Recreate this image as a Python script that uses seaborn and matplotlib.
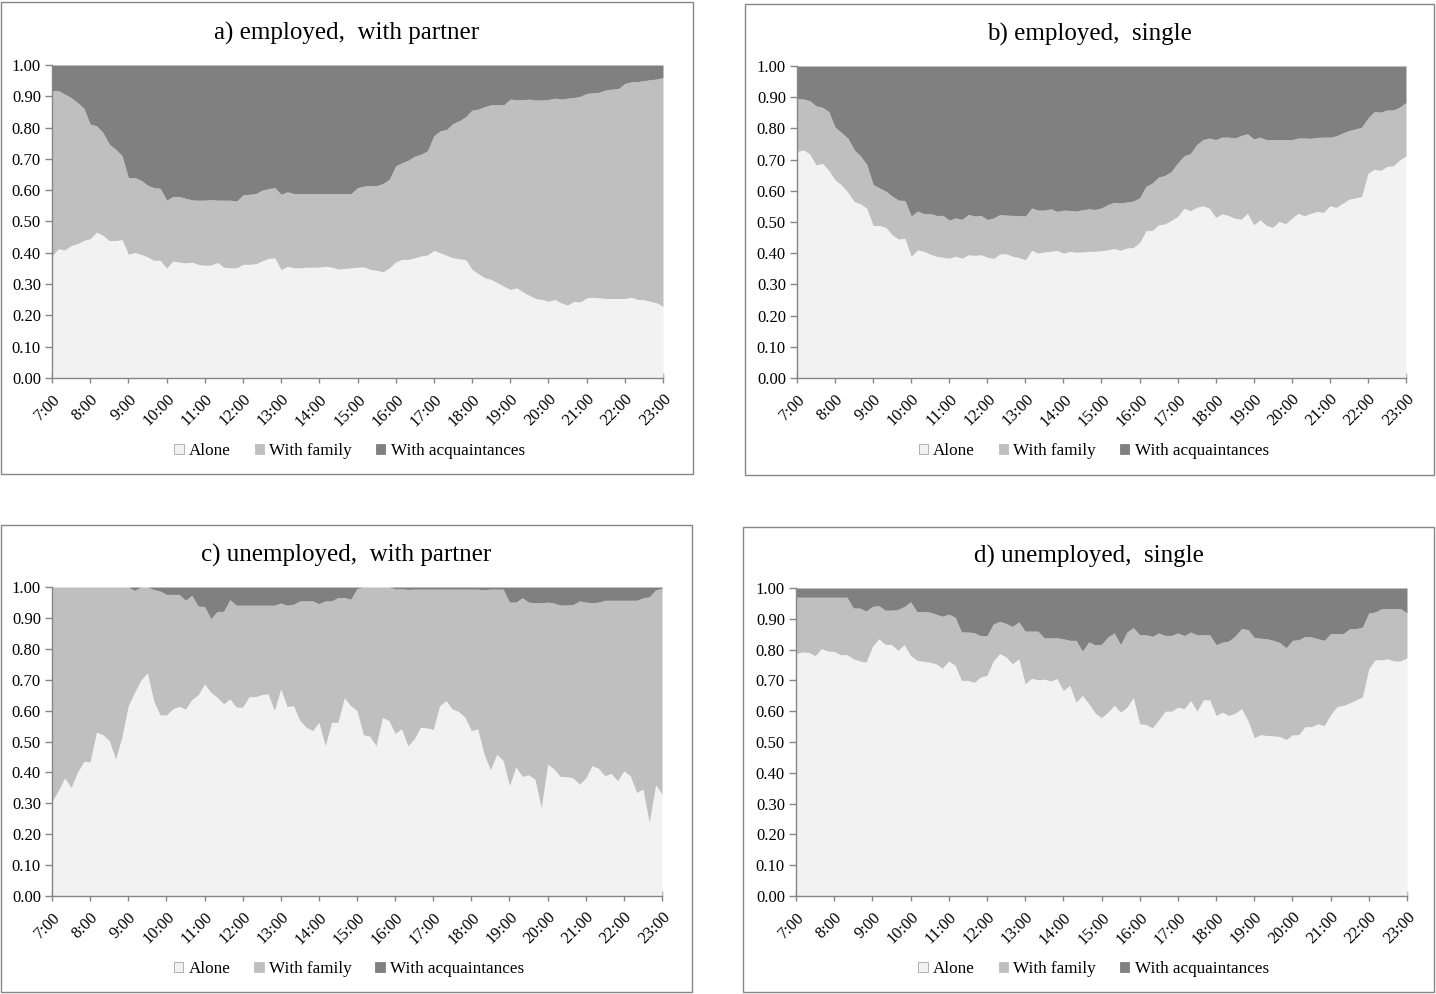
import numpy as np
import matplotlib
matplotlib.use("Agg")
import matplotlib.pyplot as plt
from matplotlib.patches import Patch, Rectangle
import seaborn as sns

# 10-minute slots from 7:00 to 23:00 (97 categories)
times = [f"{h}:{m:02d}" for h in range(7, 24) for m in range(0, 60, 10)][:97]
series_names = ["Alone", "With family", "With acquaintances"]

# share alone, and share alone or with family (the rest is with acquaintances)
# one row per hour
a_alone = [
    0.390, 0.413, 0.409, 0.423, 0.429, 0.440,
    0.445, 0.466, 0.456, 0.439, 0.439, 0.442,
    0.395, 0.401, 0.395, 0.387, 0.376, 0.376,
    0.351, 0.374, 0.370, 0.368, 0.370, 0.363,
    0.360, 0.361, 0.369, 0.354, 0.352, 0.352,
    0.363, 0.363, 0.365, 0.374, 0.382, 0.384,
    0.346, 0.357, 0.352, 0.352, 0.354, 0.354,
    0.354, 0.357, 0.354, 0.348, 0.350, 0.352,
    0.354, 0.355, 0.347, 0.344, 0.339, 0.352,
    0.371, 0.379, 0.379, 0.384, 0.390, 0.393,
    0.408, 0.400, 0.392, 0.384, 0.381, 0.378,
    0.347, 0.333, 0.320, 0.315, 0.304, 0.293,
    0.283, 0.288, 0.275, 0.264, 0.254, 0.251,
    0.245, 0.251, 0.240, 0.233, 0.245, 0.243,
    0.256, 0.258, 0.256, 0.254, 0.254, 0.254,
    0.254, 0.258, 0.251, 0.250, 0.245, 0.240,
    0.229,
]
a_not_acq = [
    0.918, 0.918, 0.907, 0.896, 0.880, 0.862,
    0.811, 0.806, 0.784, 0.747, 0.731, 0.710,
    0.640, 0.640, 0.632, 0.616, 0.608, 0.606,
    0.568, 0.580, 0.580, 0.574, 0.569, 0.568,
    0.568, 0.570, 0.568, 0.568, 0.568, 0.565,
    0.585, 0.587, 0.589, 0.600, 0.605, 0.608,
    0.587, 0.595, 0.589, 0.589, 0.589, 0.589,
    0.589, 0.589, 0.589, 0.589, 0.589, 0.589,
    0.608, 0.613, 0.615, 0.615, 0.621, 0.635,
    0.678, 0.688, 0.696, 0.709, 0.715, 0.726,
    0.774, 0.790, 0.794, 0.813, 0.822, 0.835,
    0.856, 0.859, 0.867, 0.873, 0.873, 0.873,
    0.891, 0.889, 0.889, 0.891, 0.888, 0.888,
    0.890, 0.894, 0.891, 0.894, 0.896, 0.900,
    0.909, 0.911, 0.913, 0.920, 0.923, 0.925,
    0.941, 0.946, 0.947, 0.950, 0.953, 0.955,
    0.960,
]

b_alone = [
    0.726, 0.731, 0.718, 0.683, 0.688, 0.665,
    0.635, 0.619, 0.596, 0.566, 0.558, 0.544,
    0.489, 0.489, 0.483, 0.459, 0.445, 0.448,
    0.390, 0.411, 0.406, 0.397, 0.390, 0.387,
    0.384, 0.390, 0.384, 0.395, 0.393, 0.395,
    0.387, 0.383, 0.398, 0.398, 0.390, 0.386,
    0.379, 0.409, 0.400, 0.404, 0.406, 0.409,
    0.400, 0.406, 0.403, 0.404, 0.406, 0.406,
    0.408, 0.411, 0.415, 0.409, 0.417, 0.418,
    0.434, 0.472, 0.473, 0.491, 0.494, 0.505,
    0.518, 0.544, 0.536, 0.547, 0.552, 0.544,
    0.515, 0.526, 0.521, 0.512, 0.509, 0.528,
    0.491, 0.507, 0.489, 0.483, 0.502, 0.494,
    0.512, 0.528, 0.520, 0.528, 0.534, 0.531,
    0.552, 0.547, 0.560, 0.573, 0.577, 0.582,
    0.656, 0.669, 0.665, 0.678, 0.680, 0.699,
    0.712,
]
b_not_acq = [
    0.895, 0.894, 0.889, 0.872, 0.868, 0.854,
    0.804, 0.787, 0.769, 0.732, 0.712, 0.684,
    0.620, 0.609, 0.599, 0.583, 0.570, 0.569,
    0.519, 0.535, 0.527, 0.527, 0.521, 0.521,
    0.506, 0.513, 0.508, 0.524, 0.519, 0.521,
    0.508, 0.513, 0.524, 0.522, 0.521, 0.521,
    0.519, 0.545, 0.538, 0.538, 0.542, 0.534,
    0.538, 0.537, 0.535, 0.539, 0.542, 0.540,
    0.545, 0.556, 0.563, 0.561, 0.564, 0.567,
    0.577, 0.614, 0.625, 0.644, 0.649, 0.662,
    0.689, 0.712, 0.719, 0.748, 0.764, 0.769,
    0.764, 0.772, 0.772, 0.769, 0.777, 0.783,
    0.766, 0.772, 0.764, 0.764, 0.764, 0.764,
    0.764, 0.769, 0.769, 0.768, 0.771, 0.772,
    0.772, 0.776, 0.785, 0.793, 0.798, 0.804,
    0.833, 0.854, 0.852, 0.859, 0.859, 0.868,
    0.883,
]

c_alone = [
    0.306, 0.341, 0.382, 0.351, 0.400, 0.435,
    0.435, 0.530, 0.522, 0.503, 0.443, 0.514,
    0.616, 0.659, 0.699, 0.722, 0.632, 0.586,
    0.586, 0.605, 0.614, 0.605, 0.636, 0.651,
    0.686, 0.659, 0.643, 0.622, 0.638, 0.611,
    0.611, 0.645, 0.645, 0.652, 0.654, 0.600,
    0.670, 0.613, 0.616, 0.568, 0.546, 0.535,
    0.562, 0.486, 0.562, 0.562, 0.641, 0.616,
    0.600, 0.522, 0.517, 0.486, 0.578, 0.568,
    0.526, 0.541, 0.486, 0.508, 0.546, 0.544,
    0.539, 0.616, 0.632, 0.605, 0.597, 0.578,
    0.535, 0.541, 0.459, 0.408, 0.459, 0.438,
    0.357, 0.418, 0.387, 0.392, 0.378, 0.286,
    0.427, 0.411, 0.387, 0.386, 0.382, 0.362,
    0.382, 0.422, 0.413, 0.389, 0.397, 0.373,
    0.405, 0.389, 0.335, 0.346, 0.238, 0.360,
    0.330,
]
c_not_acq = [
    1.000, 1.000, 1.000, 1.000, 1.000, 1.000,
    1.000, 1.000, 1.000, 1.000, 1.000, 1.000,
    1.000, 0.989, 1.000, 1.000, 0.992, 0.987,
    0.976, 0.976, 0.976, 0.957, 0.973, 0.938,
    0.937, 0.897, 0.921, 0.921, 0.959, 0.941,
    0.941, 0.941, 0.941, 0.941, 0.941, 0.941,
    0.948, 0.941, 0.944, 0.955, 0.955, 0.955,
    0.946, 0.955, 0.955, 0.966, 0.966, 0.960,
    0.995, 1.000, 1.000, 1.000, 1.000, 1.000,
    0.994, 0.994, 0.992, 0.993, 0.993, 0.993,
    0.993, 0.993, 0.993, 0.993, 0.993, 0.993,
    0.993, 0.993, 0.991, 0.993, 0.993, 0.993,
    0.951, 0.951, 0.965, 0.951, 0.949, 0.949,
    0.951, 0.948, 0.941, 0.942, 0.943, 0.955,
    0.951, 0.949, 0.951, 0.957, 0.957, 0.957,
    0.957, 0.957, 0.957, 0.965, 0.968, 0.991,
    0.995,
]

d_alone = [
    0.787, 0.792, 0.791, 0.780, 0.803, 0.795,
    0.794, 0.783, 0.784, 0.770, 0.763, 0.759,
    0.810, 0.835, 0.817, 0.817, 0.797, 0.816,
    0.781, 0.765, 0.762, 0.759, 0.754, 0.740,
    0.763, 0.749, 0.700, 0.700, 0.694, 0.711,
    0.716, 0.763, 0.787, 0.776, 0.754, 0.770,
    0.689, 0.707, 0.702, 0.704, 0.698, 0.706,
    0.667, 0.684, 0.629, 0.651, 0.625, 0.594,
    0.579, 0.597, 0.619, 0.597, 0.613, 0.644,
    0.559, 0.557, 0.546, 0.572, 0.600, 0.600,
    0.613, 0.608, 0.635, 0.600, 0.637, 0.637,
    0.586, 0.597, 0.586, 0.594, 0.608, 0.570,
    0.514, 0.524, 0.521, 0.520, 0.518, 0.508,
    0.523, 0.524, 0.550, 0.550, 0.559, 0.553,
    0.589, 0.615, 0.619, 0.627, 0.637, 0.646,
    0.738, 0.767, 0.767, 0.770, 0.763, 0.763,
    0.774,
]
d_not_acq = [
    0.970, 0.970, 0.970, 0.970, 0.970, 0.970,
    0.970, 0.970, 0.970, 0.935, 0.935, 0.925,
    0.940, 0.943, 0.928, 0.928, 0.930, 0.940,
    0.955, 0.923, 0.923, 0.922, 0.915, 0.908,
    0.915, 0.905, 0.857, 0.857, 0.855, 0.845,
    0.845, 0.883, 0.892, 0.885, 0.875, 0.890,
    0.860, 0.860, 0.860, 0.838, 0.838, 0.838,
    0.835, 0.830, 0.830, 0.795, 0.825, 0.815,
    0.817, 0.841, 0.854, 0.816, 0.857, 0.871,
    0.848, 0.848, 0.843, 0.854, 0.846, 0.846,
    0.854, 0.845, 0.857, 0.848, 0.848, 0.848,
    0.816, 0.824, 0.828, 0.844, 0.868, 0.865,
    0.839, 0.837, 0.835, 0.830, 0.823, 0.806,
    0.830, 0.832, 0.843, 0.841, 0.835, 0.830,
    0.852, 0.852, 0.852, 0.868, 0.868, 0.873,
    0.919, 0.922, 0.933, 0.933, 0.933, 0.933,
    0.919,
]

titles = ["a) employed,  with partner", "b) employed,  single",
          "c) unemployed,  with partner", "d) unemployed,  single"]
data = [(a_alone, a_not_acq), (b_alone, b_not_acq),
        (c_alone, c_not_acq), (d_alone, d_not_acq)]

# pixel layout: plot area and outer frame of each panel
W, H = 1436, 994
plot_boxes = [(52, 65, 663, 378), (797, 66, 1406, 378),
              (52, 587, 662, 896), (796, 588, 1407, 896)]
frame_boxes = [(1, 2, 693, 474), (745, 4, 1434, 475),
               (1, 525, 692, 992), (743, 527, 1434, 992)]

sns.set_theme(style="white")
plt.rcParams["font.family"] = ["Liberation Serif", "DejaVu Serif"]
colors = ["#f2f2f2", "#bfbfbf", "#808080"]
axis_grey = "#868686"


def fig_rect(x0, y0, x1, y1):
    return [x0 / W, 1 - y1 / H, (x1 - x0) / W, (y1 - y0) / H]


fig = plt.figure(figsize=(W / 100, H / 100), dpi=100)

for title, (alone, not_acq), pbox, fbox in zip(titles, data, plot_boxes, frame_boxes):
    fig.add_artist(Rectangle((fbox[0] / W, 1 - fbox[3] / H),
                             (fbox[2] - fbox[0]) / W, (fbox[3] - fbox[1]) / H,
                             transform=fig.transFigure, fill=False,
                             edgecolor=axis_grey, linewidth=1))
    ax = fig.add_axes(fig_rect(*pbox))
    idx = np.arange(len(times))
    alone = np.array(alone)
    not_acq = np.array(not_acq)
    ax.stackplot(idx, alone, not_acq - alone, 1 - not_acq,
                 colors=colors, linewidth=0)

    ax.set_xlim(0, len(times) - 1)
    ax.set_ylim(0, 1)
    ax.set_yticks(np.arange(0, 1.01, 0.1))
    ax.set_yticklabels([f"{v:.2f}" for v in np.arange(0, 1.01, 0.1)])
    ax.set_xticks(idx[::6])
    ax.set_xticklabels(times[::6], rotation=45, ha="right", va="top",
                       rotation_mode="anchor")
    ax.tick_params(axis="y", direction="out", length=5, width=1,
                   color=axis_grey, labelsize=12, pad=3, labelcolor="black")
    ax.tick_params(axis="x", direction="inout", length=7, width=1,
                   color=axis_grey, labelsize=12, pad=6, labelcolor="black")
    ax.tick_params(left=True, bottom=True)
    for side in ["top", "right"]:
        ax.spines[side].set_visible(False)
    for side in ["left", "bottom"]:
        ax.spines[side].set_color(axis_grey)
        ax.spines[side].set_linewidth(1)
    ax.grid(False)

    # title centred on the panel frame
    fig.text((fbox[0] + fbox[2]) / 2 / W, 1 - (pbox[1] - 32) / H, title,
             ha="center", va="center", fontsize=18, color="black")

    handles = [Patch(facecolor=c, edgecolor="#a6a6a6" if i == 0 else c,
                     linewidth=0.6, label=n)
               for i, (c, n) in enumerate(zip(colors, series_names))]
    h = pbox[3] - pbox[1]
    ax.legend(handles=handles, loc="center", bbox_to_anchor=(0.487, -73 / h),
              ncol=3, frameon=False, fontsize=12.3, handlelength=0.55,
              handleheight=0.55, handletextpad=0.3, columnspacing=1.4,
              labelcolor="black")

fig.savefig("out.png", dpi=100)
